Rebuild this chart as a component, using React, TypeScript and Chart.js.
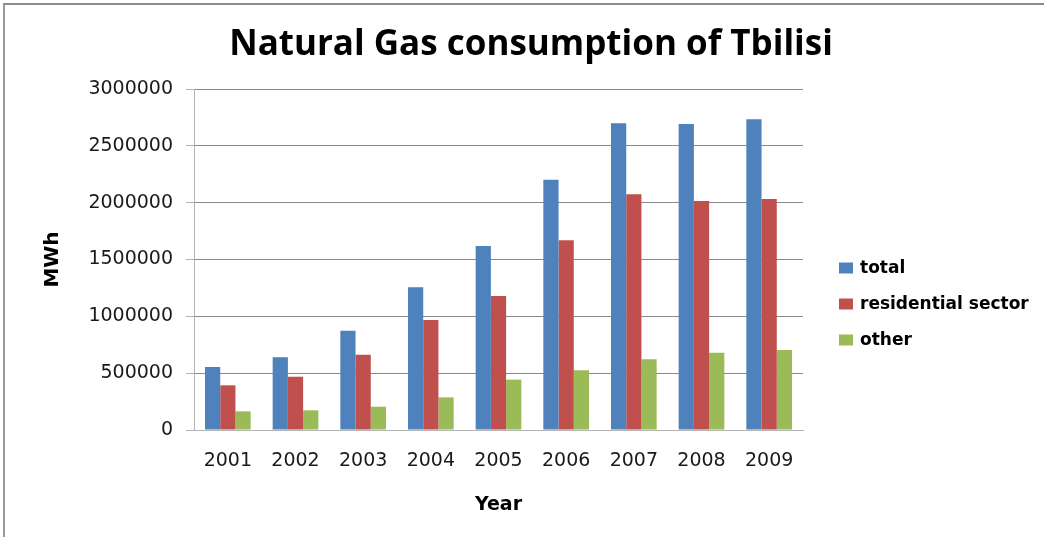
import React, { useEffect, useRef } from 'react';
import { Chart, registerables, layouts } from 'chart.js';

Chart.register(...registerables);

const years = ['2001', '2002', '2003', '2004', '2005', '2006', '2007', '2008', '2009'];
const seriesLabels = ['total', 'residential sector', 'other'];
const totalValues = [554000, 639000, 874000, 1255000, 1619000, 2202000, 2698000, 2692000, 2733000];
const residentialValues = [393000, 469000, 663000, 968000, 1179000, 1669000, 2073000, 2015000, 2032000];
const otherValues = [164000, 173000, 205000, 287000, 443000, 525000, 622000, 680000, 704000];
const seriesColors = ['#4F81BD', '#C0504D', '#9BBB59'];
const yMin = 0;
const yMax = 3000000;
const yStep = 500000;

function makeLegendBox(chart: any) {
  return {
    position: 'right',
    weight: 0,
    fullSize: false,
    options: {},
    left: 0, top: 0, right: 0, bottom: 0, width: 0, height: 0,
    isHorizontal() { return false; },
    update(maxWidth: number, maxHeight: number) {
      this.width = 241;
      this.height = maxHeight;
    },
    draw() {
      const ctx = chart.ctx;
      ctx.save();
      ctx.font = 'bold 17px "DejaVu Sans"';
      ctx.textBaseline = 'middle';
      ctx.textAlign = 'left';
      chart.data.datasets.forEach((ds: any, i: number) => {
        const x = this.left + 36;
        const y = 268 + i * 36;
        ctx.fillStyle = ds.backgroundColor;
        ctx.fillRect(x, y - 5.5, 14, 11);
        ctx.fillStyle = '#000';
        ctx.fillText(ds.label, x + 21, y + 1);
      });
      ctx.restore();
    },
  };
}

const sideLegend = {
  id: 'sideLegend',
  beforeInit(chart: any) {
    layouts.addBox(chart, makeLegendBox(chart) as any);
  },
};

export default function App() {
  const ref = useRef<HTMLCanvasElement>(null);

  useEffect(() => {
    if (!ref.current) return;
    const seriesValues = [totalValues, residentialValues, otherValues];
    const chart = new Chart(ref.current, {
      type: 'bar',
      data: {
        labels: years,
        datasets: seriesLabels.map((label, i) => ({
          label,
          data: seriesValues[i],
          backgroundColor: seriesColors[i],
          borderWidth: 0,
          categoryPercentage: 0.675,
          barPercentage: 1.0,
        })),
      },
      options: {
        animation: false,
        responsive: false,
        devicePixelRatio: 1,
        layout: { padding: { left: 18, right: 0, top: 0, bottom: 0 } },
        plugins: {
          legend: { display: false },
          tooltip: { enabled: false },
          title: {
            display: true,
            text: 'Natural Gas consumption of Tbilisi',
            color: '#000',
            font: { family: '"Open Sans"', size: 35, weight: 'bold' },
            padding: { top: 24, bottom: 23 },
          },
        },
        scales: {
          x: {
            grid: { display: false, drawTicks: false },
            border: { display: true, color: '#b3b3b3', width: 1 },
            ticks: {
              color: '#1a1a1a',
              font: { family: '"DejaVu Sans"', size: 19 },
              padding: 20,
              maxRotation: 0,
            },
            title: {
              display: true,
              text: 'Year',
              color: '#000',
              font: { family: '"DejaVu Sans"', size: 19, weight: 'bold' },
              padding: { top: 0, bottom: 21 },
            },
            afterFit: (s: any) => { s.height = 107; },
          },
          y: {
            min: yMin,
            max: yMax,
            grid: { color: '#8a8a8a', tickColor: '#b0b0b0', tickLength: 8 },
            border: { display: true, color: '#b3b3b3', width: 1 },
            ticks: {
              stepSize: yStep,
              color: '#1a1a1a',
              font: { family: '"DejaVu Sans"', size: 19 },
              padding: 13,
              callback: (v: any) => String(v),
            },
            title: {
              display: true,
              text: 'MWh',
              color: '#000',
              font: { family: '"DejaVu Sans"', size: 20, weight: 'bold' },
              padding: { top: 23, bottom: 10 },
            },
            afterFit: (s: any) => { s.width = 176; },
          },
        },
      },
      plugins: [sideLegend],
    });
    return () => chart.destroy();
  }, []);

  return (
    <div style={{ position: 'absolute', left: 0, top: 0, width: 1044, height: 537, background: '#fff', overflow: 'hidden' }}>
      <div style={{ position: 'absolute', left: 3, top: 3, right: -10, bottom: -10, borderTop: '2px solid #8c8c8c', borderLeft: '2px solid #9a9a9a' }} />
      <canvas ref={ref} width={1044} height={537} style={{ position: 'absolute', left: 0, top: 0 }} />
    </div>
  );
}
